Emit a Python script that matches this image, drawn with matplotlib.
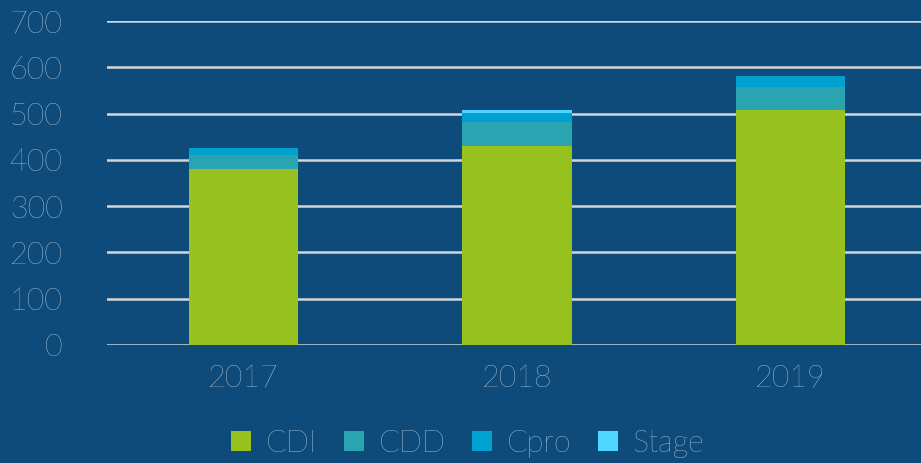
import matplotlib.pyplot as plt
import numpy as np

years = ['2017', '2018', '2019']
series = ['CDI', 'CDD', 'Cpro', 'Stage']
cdi = [380, 430, 508]
cdd = [30, 52, 50]
cpro = [15, 20, 24]
stage = [0, 6, 0]
colors = ['#96c11f', '#2ba4b2', '#00a1d1', '#4dd6ff']

plt.rcParams['font.family'] = ['Lato', 'DejaVu Sans']

fig = plt.figure(figsize=(9.21, 4.63), dpi=100)
fig.patch.set_facecolor('#0e4b7b')
ax = fig.add_axes([0.1162, 0.2549, 0.8904, 0.6997])
ax.set_facecolor('none')

x = np.arange(len(years))
bottom = np.zeros(len(years))
for name, vals, c in zip(series, [cdi, cdd, cpro, stage], colors):
    ax.bar(x, vals, 0.4, bottom=bottom, color=c, label=name, zorder=3)
    bottom += np.array(vals)

ax.set_xlim(-0.5, 2.5)
ax.set_ylim(0, 700)
ax.set_yticks(range(0, 701, 100))
ax.yaxis.grid(True, color='#d3d6d9', linewidth=1.8, zorder=1)
ax.set_axisbelow(True)
for s in ax.spines.values():
    s.set_visible(False)
ax.tick_params(length=0, colors='#f2f6f9', labelsize=22)
ax.tick_params(axis='y', pad=32)
ax.tick_params(axis='x', pad=14)
ax.set_xticks(x)
ax.set_xticklabels(years)
for t in ax.get_xticklabels() + ax.get_yticklabels():
    t.set_fontweight('light')

leg = fig.legend(loc='lower center', bbox_to_anchor=(0.508, -0.048), ncol=4,
                 frameon=False, fontsize=22, handlelength=0.65, handleheight=0.65,
                 handletextpad=0.5, columnspacing=0.85)
for t in leg.get_texts():
    t.set_color('#f2f6f9')
    t.set_fontweight('light')

fig.savefig('out.png', dpi=100, facecolor=fig.get_facecolor())
